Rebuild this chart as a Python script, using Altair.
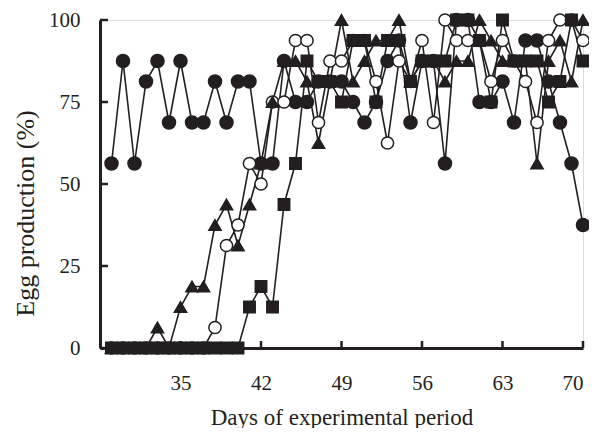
import altair as alt
import pandas as pd

days = [29, 30, 31, 32, 33, 34, 35, 36, 37, 38, 39, 40, 41, 42, 43, 44, 45, 46, 47, 48, 49,
        50, 51, 52, 53, 54, 55, 56, 57, 58, 59, 60, 61, 62, 63, 64, 65, 66, 67, 68, 69, 70]

filled_circle = [56.25, 87.5, 56.25, 81.25, 87.5, 68.75, 87.5, 68.75, 68.75, 81.25, 68.75, 81.25,
                 81.25, 56.25, 56.25, 87.5, 75, 75, 81.25, 81.25, 81.25, 75, 68.75, 75, 87.5, 93.75,
                 68.75, 87.5, 87.5, 56.25, 100, 100, 75, 75, 81.25, 68.75, 93.75, 93.75, 81.25,
                 68.75, 56.25, 37.5]

open_circle = [0, 0, 0, 0, 0, 0, 0, 0, 0, 6.25, 31.25, 37.5, 56.25, 50, 75, 75, 93.75, 93.75,
               68.75, 87.5, 87.5, 93.75, 93.75, 81.25, 62.5, 87.5, 81.25, 93.75, 68.75, 100,
               93.75, 93.75, 93.75, 81.25, 93.75, 87.5, 81.25, 68.75, 93.75, 100, 100, 93.75]

triangle = [0, 0, 0, 0, 6.25, 0, 12.5, 18.75, 18.75, 37.5, 43.75, 31.25, 43.75, 56.25, 75, 87.5,
            87.5, 81.25, 62.5, 81.25, 100, 81.25, 87.5, 93.75, 93.75, 100, 81.25, 87.5, 87.5,
            81.25, 87.5, 87.5, 100, 93.75, 87.5, 87.5, 87.5, 56.25, 87.5, 93.75, 81.25, 100]

square = [0, 0, 0, 0, 0, 0, 0, 0, 0, 0, 0, 0, 12.5, 18.75, 12.5, 43.75, 56.25, 87.5, 81.25, 81.25,
          75, 93.75, 93.75, 75, 93.75, 93.75, 81.25, 87.5, 87.5, 87.5, 100, 100, 93.75, 75, 100,
          87.5, 87.5, 87.5, 75, 81.25, 100, 87.5]

x_ticks = [35, 42, 49, 56, 63, 70]
y_ticks = [0, 25, 50, 75, 100]

series_names = ["filled circle", "open circle", "triangle", "square"]
series_values = [filled_circle, open_circle, triangle, square]
rows = []
for name, vals in zip(series_names, series_values):
    for d, v in zip(days, vals):
        rows.append({"day": d, "value": v, "series": name})
df = pd.DataFrame(rows)

W, H = 483, 328
FONT = "Liberation Serif"
INK = "#231f20"

xscale = alt.Scale(domain=[28, 70], nice=False, zero=False)
yscale = alt.Scale(domain=[0, 100], nice=False)

xaxis = alt.Axis(values=x_ticks, ticks=False, grid=False, domainWidth=3, domainColor=INK,
                 labelFont=FONT, labelFontSize=21, labelColor=INK, labelPadding=24,
                 title="Days of experimental period", titleFont=FONT, titleFontSize=23,
                 titleFontWeight="normal", titleColor=INK, titleY=76,
                 titleBaseline="alphabetic")
yaxis = alt.Axis(values=y_ticks, ticks=False, grid=False, domainWidth=3, domainColor=INK,
                 labelFont=FONT, labelFontSize=21, labelColor=INK, labelPadding=20,
                 title="Egg production (%)", titleFont=FONT, titleFontSize=26,
                 titleFontWeight="normal", titleColor=INK, titleAngle=270,
                 titleX=-75, titleY=193, titleAlign="center", titleBaseline="middle")

base = alt.Chart(df)

lines = base.mark_line(color=INK, strokeWidth=1.6).encode(
    x=alt.X("day:Q", scale=xscale, axis=xaxis),
    y=alt.Y("value:Q", scale=yscale, axis=yaxis),
    detail="series:N",
)

def pts(name, shape, fill, size):
    return alt.Chart(df[df.series == name]).mark_point(
        shape=shape, filled=True, fill=fill, stroke=INK, strokeWidth=1.5, size=size, opacity=1
    ).encode(x=alt.X("day:Q", scale=xscale), y=alt.Y("value:Q", scale=yscale))

p_fc = pts("filled circle", "circle", INK, 170)
p_tr = pts("triangle", "triangle-up", INK, 150)
p_sq = pts("square", "square", INK, 130)
p_oc = pts("open circle", "circle", "white", 150)

ytick_df = pd.DataFrame({"v": y_ticks})
xtick_df = pd.DataFrame({"d": x_ticks})
yt = alt.Chart(ytick_df).mark_rule(color=INK, strokeWidth=2.5).encode(
    y=alt.Y("v:Q", scale=yscale), x=alt.value(0), x2=alt.value(8))
xt = alt.Chart(xtick_df).mark_rule(color=INK, strokeWidth=2.5).encode(
    x=alt.X("d:Q", scale=xscale), y=alt.value(H), y2=alt.value(H - 7))

chart = alt.layer(yt, xt, lines, p_fc, p_oc, p_tr, p_sq).properties(
    width=W, height=H,
    autosize=alt.AutoSizeParams(type="none"),
    padding={"left": 92, "top": 12, "right": 6, "bottom": 80},
).configure_view(stroke=None).configure(background="white")

chart.save("out.html", embed_options={"renderer": "svg", "actions": False})
